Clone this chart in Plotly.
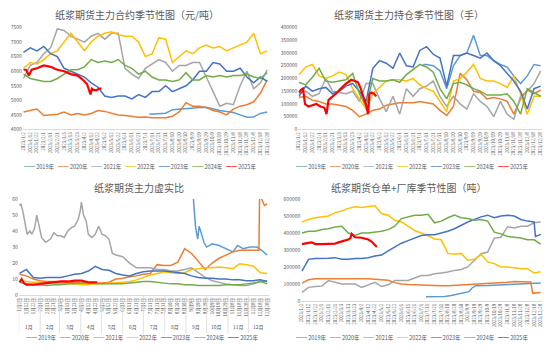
import datetime as dt
import plotly.graph_objects as go

# ---------------- data ----------------
YEARS = ["2019年", "2020年", "2021年", "2022年", "2023年", "2024年", "2025年"]
COLORS = ["#5B9BD5", "#ED7D31", "#A5A5A5", "#FFC000", "#4472C4", "#70AD47", "#FF0000"]
BASE = dt.date(2023, 1, 2)
DAYS = list(range(0, 361, 10))  # day offsets from 2023-01-02

# Panel 1: main contract price (元/吨)
P1_2019_DAYS = [186] + DAYS[19:]
P1_2019 = [4520, 4530, 4540, 4560, 4680, 4700, 4730, 4740, 4750, 4760, 4700, 4650, 4620, 4580, 4500, 4420, 4430, 4550, 4600]
P1_2020 = [4600, 4650, 4700, 4480, 4500, 4520, 4600, 4500, 4550, 4500, 4550, 4650, 4620, 4550, 4500, 4480, 4450, 4420, 4430, 4400,
           4400, 4400, 4450, 4600, 4920, 4800, 4800, 4750, 4650, 4600, 4500, 4700, 4800, 4850, 4950, 5250, 5700]
P1_2021 = [5750, 6200, 6300, 6600, 6800, 7450, 7400, 7200, 7100, 7000, 7200, 7300, 7100, 7300, 7300, 6100, 5900, 5750, 6100, 6250,
           6400, 6300, 6000, 6200, 6200, 6300, 6300, 5800, 5300, 4800, 4900, 4850, 5500, 6000, 5400, 5600, 6050]
P1_2022 = [6100, 6300, 6250, 6400, 6600, 6700, 7000, 7300, 7000, 6700, 7000, 7200, 7300, 7350, 7250, 7200, 7200, 7000, 6500, 6600,
           7150, 7100, 6300, 6500, 6700, 6600, 6800, 6900, 6800, 6850, 6700, 6800, 6900, 7000, 7300, 6600, 6700]
P1_2023 = [6650, 6800, 6700, 6850, 6600, 6500, 6100, 6000, 5900, 5800, 5600, 5450, 5150, 5100, 5150, 5150, 5050, 5200, 5100, 5300,
           5300, 5500, 5300, 5400, 5500, 5700, 6000, 6000, 6300, 6250, 6000, 6000, 6100, 5800, 5600, 5800, 5650]
P1_2024 = [5900, 5750, 5700, 5650, 5650, 5750, 5900, 6050, 6050, 6150, 6400, 6300, 6350, 6300, 6400, 6200, 6100, 5900, 6000, 5800,
           5700, 5700, 5650, 5700, 5950, 5700, 5700, 5850, 5800, 5850, 5800, 5850, 5850, 5900, 5800, 5750, 5950]
P1_2025_DAYS = [0, 4, 8, 12, 20, 30, 40, 50, 60, 70, 80, 88, 94, 97, 99, 101, 104, 108, 112, 115]
P1_2025 = [6050, 6050, 5850, 6050, 6100, 6200, 6150, 6050, 6000, 5900, 5850, 5700, 5550, 5350, 5200, 5400, 5350, 5350, 5400, 5400]

# Panel 2: open interest (手)
P2_2019_DAYS = [185] + DAYS[19:]
P2_2019 = [255000, 255000, 250000, 230000, 160000, 250000, 290000, 300000, 370000, 290000, 290000, 270000, 255000, 245000,
           210000, 180000, 210000, 255000, 250000]
P2_2020 = [125000, 130000, 115000, 110000, 100000, 100000, 95000, 90000, 75000, 50000, 60000, 75000, 80000, 95000, 100000,
           105000, 105000, 105000, 110000, 105000, 100000, 75000, 55000, 90000, 220000, 195000, 150000, 145000, 120000,
           125000, 120000, 110000, 60000, 120000, 155000, 140000, 155000]
P2_2021 = [140000, 150000, 130000, 140000, 200000, 150000, 145000, 140000, 150000, 110000, 180000, 180000, 120000, 70000,
           130000, 60000, 160000, 130000, 160000, 170000, 190000, 130000, 90000, 130000, 100000, 80000, 140000, 110000,
           90000, 50000, 110000, 60000, 40000, 130000, 150000, 180000, 230000]
P2_2022 = [215000, 245000, 255000, 210000, 200000, 210000, 225000, 215000, 160000, 120000, 80000, 140000, 165000, 190000,
           195000, 195000, 190000, 200000, 175000, 160000, 150000, 110000, 70000, 190000, 200000, 225000, 255000, 200000,
           190000, 190000, 180000, 165000, 210000, 140000, 60000, 130000, 130000]
P2_2023 = [130000, 170000, 150000, 160000, 165000, 140000, 150000, 170000, 180000, 150000, 110000, 240000, 270000, 260000,
           240000, 300000, 250000, 245000, 310000, 325000, 295000, 280000, 170000, 290000, 290000, 300000, 290000, 280000,
           300000, 270000, 250000, 220000, 190000, 150000, 80000, 160000, 170000]
P2_2024 = [185000, 175000, 205000, 240000, 190000, 185000, 190000, 195000, 220000, 140000, 90000, 200000, 190000, 190000,
           195000, 185000, 215000, 235000, 255000, 245000, 225000, 160000, 120000, 180000, 185000, 175000, 160000, 150000,
           135000, 135000, 135000, 140000, 110000, 60000, 160000, 145000, 130000]
P2_2025_DAYS = [0, 3, 6, 9, 14, 20, 26, 32, 38, 41, 44, 48, 55, 62, 70, 78, 84, 88, 92, 96, 100, 103, 105, 108, 112, 115]
P2_2025 = [145000, 155000, 160000, 100000, 90000, 95000, 100000, 90000, 85000, 60000, 115000, 125000, 140000, 160000,
           180000, 195000, 190000, 185000, 160000, 130000, 95000, 60000, 140000, 145000, 140000, 130000]

# Panel 3: ratio of open interest to warehouse receipts
P3_2019_DAYS = [250, 253, 256, 259, 261, 264, 268, 272, 280, 290, 300, 310, 317, 325, 335, 345, 352, 360]
P3_2019 = [75, 58, 42, 35, 43, 39, 33, 30, 32, 31, 29, 27, 31, 29, 30, 30, 28, 25]
P3_2020_DAYS = DAYS[:35] + [345, 348, 349, 352, 356, 360]
P3_2020 = [13, 12, 10, 9, 8.5, 8.5, 8, 8, 8, 7.5, 7.5, 7.5, 7.5, 8, 10, 10.5, 11.5, 12, 13, 13.5,
           19, 18.5, 18.5, 20.5, 29, 26, 21, 16, 20, 23, 25, 27, 28, 28, 28, 28, 28, 65, 60, 56, 57]
P3_2021_DAYS = [0, 2, 5, 8, 11, 15, 18, 22, 25, 28, 32, 38, 45, 50, 55, 60, 65, 70, 75, 80, 85, 88, 90, 93, 97, 100,
                105, 110, 115, 120, 125, 130, 135, 140, 150, 160, 170, 180, 190, 200, 210, 220, 230, 240, 250, 260,
                270, 280, 290, 300, 310, 320, 330, 340, 350, 360]
P3_2021 = [56, 57, 52, 44, 38, 40, 38, 42, 50, 44, 36, 33, 35, 39, 37, 37, 36, 40, 42, 43, 47, 52, 58, 50, 46, 38,
           36, 38, 43, 38, 37, 35, 26, 25, 24, 20, 17, 17, 17, 16, 16, 15, 15, 16, 17, 14, 11, 9, 8, 7, 6.5, 6, 6, 7, 8.5, 9]
P3_2022 = [9.5, 8.5, 8, 8, 7.5, 7.5, 7, 7, 7, 6.5, 6.5, 7, 7, 7.5, 7.5, 8, 8.5, 9.5, 11, 12.5,
           13.5, 14.5, 14, 13.5, 14, 16, 16.5, 17, 17, 17.5, 17, 16.5, 19.5, 19, 18, 14, 13.5]
P3_2023 = [13.5, 16, 11, 10.5, 11, 11, 11, 12, 13, 13.5, 15, 18, 16, 15.5, 13.5, 12.5, 12, 13.5, 14.5, 15,
           15, 15, 14.5, 14, 13.5, 12, 11, 10.5, 10.5, 10, 10, 9.5, 9.5, 9, 9, 9.5, 8.5]
P3_2024 = [8, 7, 6.5, 6.5, 6, 6.5, 6.5, 7, 7, 7.5, 7.5, 7, 7, 7, 7, 7, 7.5, 8, 8.5, 8.5,
           8, 7.5, 7, 7, 6.5, 6.5, 6, 6, 6, 6, 6.5, 6.5, 6.5, 7, 7.5, 8.5, 7]
P3_2025_DAYS = [0, 3, 6, 10, 15, 20, 30, 40, 50, 60, 70, 80, 90, 100, 106, 113]
P3_2025 = [8, 10, 7.5, 6.5, 6.5, 6.5, 7, 7.5, 8, 8.5, 8.5, 9, 9, 8, 8, 8]
P3_MONTHS = ["1月", "2月", "3月", "4月", "5月", "6月", "7月", "8月", "9月", "10月", "11月", "12月"]

# Panel 4: warehouse receipts + factory stocks (吨)
P4_2019_DAYS = [187, 200, 215, 225, 235, 245, 252, 256, 262, 280, 300, 320, 340, 360]
P4_2019 = [25000, 25000, 26000, 32000, 42000, 50000, 55000, 75000, 90000, 91000, 94000, 98000, 102000, 105000]
P4_2020_DAYS = DAYS[:35] + [345, 348, 354, 360]
P4_2020 = [105000, 125000, 130000, 130000, 130000, 133000, 133000, 132000, 132000, 130000, 130000, 128000, 125000,
           122000, 108000, 100000, 97000, 95000, 93000, 92000, 90000, 90000, 90000, 92000, 93000, 95000, 100000,
           100000, 102000, 103000, 105000, 110000, 115000, 115000, 115000, 112000, 45000, 48000, 50000]
P4_2021 = [50000, 80000, 85000, 88000, 120000, 110000, 100000, 100000, 100000, 80000, 95000, 110000, 85000, 95000,
           120000, 120000, 120000, 135000, 150000, 150000, 160000, 165000, 170000, 180000, 185000, 200000, 240000,
           278000, 288000, 370000, 375000, 437000, 430000, 440000, 440000, 460000, 465000]
P4_2022 = [465000, 480000, 490000, 495000, 500000, 520000, 530000, 545000, 555000, 550000, 555000, 560000, 515000,
           505000, 475000, 465000, 440000, 415000, 400000, 385000, 365000, 360000, 280000, 275000, 280000, 240000,
           245000, 275000, 230000, 220000, 200000, 200000, 195000, 190000, 190000, 165000, 172000]
P4_2023_DAYS = DAYS[:36] + [352, 356, 360]
P4_2023 = [175000, 245000, 250000, 250000, 252000, 255000, 245000, 245000, 250000, 250000, 255000, 265000, 270000,
           295000, 320000, 340000, 355000, 370000, 385000, 390000, 390000, 400000, 410000, 425000, 445000, 465000,
           480000, 495000, 505000, 490000, 500000, 505000, 500000, 480000, 470000, 465000, 380000, 385000, 392000]
P4_2024 = [400000, 410000, 410000, 420000, 425000, 435000, 440000, 400000, 385000, 400000, 400000, 405000, 410000,
           420000, 440000, 485000, 495000, 505000, 505000, 510000, 460000, 470000, 490000, 505000, 490000, 485000,
           475000, 480000, 470000, 405000, 395000, 380000, 375000, 370000, 360000, 360000, 335000]
P4_2025_DAYS = [0, 5, 10, 15, 20, 30, 40, 50, 55, 60, 65, 70, 73, 75, 80, 90, 100, 105, 110, 113]
P4_2025 = [335000, 340000, 342000, 345000, 335000, 335000, 335000, 338000, 345000, 350000, 355000, 362000, 370000,
           395000, 375000, 372000, 362000, 350000, 330000, 318000]

PANELS = [
    dict(title="纸浆期货主力合约季节性图（元/吨）",
         series=[(P1_2019_DAYS, P1_2019), (DAYS, P1_2020), (DAYS, P1_2021), (DAYS, P1_2022),
                 (DAYS, P1_2023), (DAYS, P1_2024), (P1_2025_DAYS, P1_2025)]),
    dict(title="纸浆期货主力持仓季节性图（手）",
         series=[(P2_2019_DAYS, P2_2019), (DAYS, P2_2020), (DAYS, P2_2021), (DAYS, P2_2022),
                 (DAYS, P2_2023), (DAYS, P2_2024), (P2_2025_DAYS, P2_2025)]),
    dict(title="纸浆期货主力虚实比",
         series=[(P3_2019_DAYS, P3_2019), (P3_2020_DAYS, P3_2020), (P3_2021_DAYS, P3_2021), (DAYS, P3_2022),
                 (DAYS, P3_2023), (DAYS, P3_2024), (P3_2025_DAYS, P3_2025)]),
    dict(title="纸浆期货仓单+厂库季节性图（吨）",
         series=[(P4_2019_DAYS, P4_2019), (P4_2020_DAYS, P4_2020), (DAYS, P4_2021), (DAYS, P4_2022),
                 (P4_2023_DAYS, P4_2023), (DAYS, P4_2024), (P4_2025_DAYS, P4_2025)]),
]

# ---------------- figure ----------------
W, H = 550, 351
FONT = "Noto Sans CJK SC"
TXT = "#595959"


def to_dates(days):
    return [BASE + dt.timedelta(days=int(d)) for d in days]


def py(px):  # pixel row -> paper y
    return 1 - px / H


fig = go.Figure()

# panel geometry: (x0, x1, ytop, ybottom) in pixels
GEOM = [(20, 268, 24, 128), (298, 544, 24, 128), (16, 268, 199, 297), (301, 544, 199, 303)]
YAX = [dict(range=[4000, 7500], dtick=500), dict(range=[0, 400000], dtick=50000),
       dict(range=[0, 60], dtick=10), dict(range=[0, 600000], dtick=100000)]
TITLE_X = [135, 410, 137, 410]
TITLE_Y = [11, 11, 187, 187]
LEGEND_X = [138, 413, 140, 413]
LEGEND_Y = [166, 166, 341, 341]

for p, panel in enumerate(PANELS):
    k = "" if p == 0 else str(p + 1)
    for (days, vals), name, col in zip(panel["series"], YEARS, COLORS):
        fig.add_trace(go.Scatter(
            x=to_dates(days), y=vals, mode="lines", name=name, showlegend=False,
            line=dict(color=col, width=2.2 if name == "2025年" else 1.5),
            xaxis="x" + k, yaxis="y" + k, hoverinfo="skip"))
    x0, x1, yt, yb = GEOM[p]
    fmt = "%-m月%-d日" if p == 2 else "%Y/%-m/%-d"
    fig.layout["xaxis" + k] = dict(
        domain=[x0 / W, x1 / W], anchor="y" + k, type="date",
        range=["2023-01-01", "2023-12-30"], tick0="2023-01-02", dtick=864000000,
        tickformat=fmt, tickangle=-90, tickfont=dict(family=FONT, size=4.5, color=TXT),
        showgrid=False, zeroline=False, showline=True, linecolor="#D9D9D9", linewidth=1,
        ticks="", fixedrange=True)
    fig.layout["yaxis" + k] = dict(
        domain=[py(yb), py(yt)], anchor="x" + k, tickformat="d",
        tickfont=dict(family=FONT, size=5, color=TXT), showgrid=False, zeroline=False,
        showline=False, ticks="", fixedrange=True, **YAX[p])
    fig.add_annotation(text=panel["title"], xref="paper", yref="paper",
                       x=TITLE_X[p] / W, y=py(TITLE_Y[p]), showarrow=False,
                       font=dict(family=FONT, size=10, color=TXT), xanchor="center", yanchor="middle")
    legend_txt = "&nbsp;&nbsp;&nbsp;".join(
        f'<span style="color:{c}">━━</span>&nbsp;{n}' for n, c in zip(YEARS, COLORS))
    fig.add_annotation(text=legend_txt, xref="paper", yref="paper",
                       x=LEGEND_X[p] / W, y=py(LEGEND_Y[p]), showarrow=False,
                       font=dict(family=FONT, size=5.5, color=TXT), xanchor="center", yanchor="middle")

# panel 3: month level of the category axis
month_starts = [dt.date(2023, m, 1) for m in range(1, 13)] + [dt.date(2023, 12, 31)]
for i, name in enumerate(P3_MONTHS):
    a, b = month_starts[i], month_starts[i + 1]
    mid = a + (b - a) / 2
    fig.add_annotation(text=name, xref="x3", yref="paper", x=mid, y=py(330), showarrow=False,
                       font=dict(family=FONT, size=5, color=TXT), xanchor="center", yanchor="middle")
for d in month_starts:
    fig.add_shape(type="line", xref="x3", yref="paper", x0=d, x1=d, y0=py(297), y1=py(336),
                  line=dict(color="#D9D9D9", width=0.8))

fig.update_layout(width=W, height=H, margin=dict(l=0, r=0, t=0, b=0),
                  paper_bgcolor="white", plot_bgcolor="white", showlegend=False,
                  font=dict(family=FONT, color=TXT))

fig.write_html("out.html", config={"displayModeBar": False})
